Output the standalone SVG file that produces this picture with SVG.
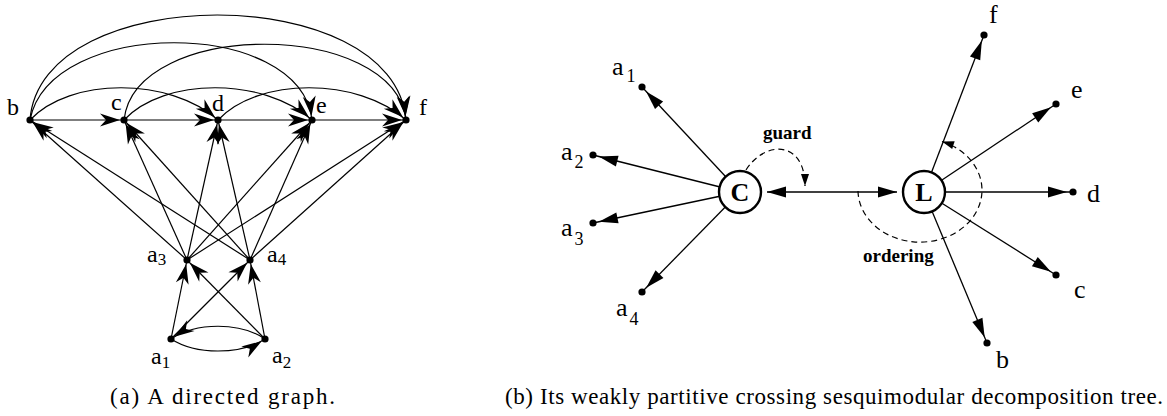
<svg xmlns="http://www.w3.org/2000/svg" width="1167" height="416" viewBox="0 0 1167 416">
<style>
.ea{fill:none;stroke:#000;stroke-width:1.2;marker-end:url(#barb)}
.er{fill:none;stroke:#000;stroke-width:1.3;marker-end:url(#tri)}
.dash{fill:none;stroke:#000;stroke-width:1.2;stroke-dasharray:6,4;marker-end:url(#small)}
.dot{fill:#000}
.lbl{font-family:"Liberation Serif","Times New Roman",serif;font-size:24px;fill:#000}
.lblr{font-family:"Liberation Serif","Times New Roman",serif;font-size:26px;fill:#000}
.sub{font-size:17px}
.subr{font-size:18px}
.bold{font-family:"Liberation Serif","Times New Roman",serif;font-weight:bold;fill:#000}
.cap{font-family:"Liberation Serif","Times New Roman",serif;font-size:23px;fill:#000}
.circ{fill:#fff;stroke:#000;stroke-width:2.4}
</style>
<defs>
<marker id="barb" viewBox="-22 -8 30 16" markerWidth="30" markerHeight="16" refX="4" refY="0" orient="auto" markerUnits="userSpaceOnUse"><path d="M0,0 L-20,-6.5 L-14,0 L-20,6.5 Z" fill="#000"/></marker>
<marker id="tri" viewBox="-22 -8 30 16" markerWidth="30" markerHeight="16" refX="6" refY="0" orient="auto" markerUnits="userSpaceOnUse"><path d="M0,0 L-19,-5.5 L-19,5.5 Z" fill="#000"/></marker>
<marker id="tri0" viewBox="-22 -8 30 16" markerWidth="30" markerHeight="16" refX="0" refY="0" orient="auto-start-reverse" markerUnits="userSpaceOnUse"><path d="M0,0 L-19,-5.5 L-19,5.5 Z" fill="#000"/></marker>
<marker id="small" viewBox="-14 -5 16 10" markerWidth="16" markerHeight="10" refX="0" refY="0" orient="auto" markerUnits="userSpaceOnUse"><path d="M0,0 L-12,-4 L-12,4 Z" fill="#000"/></marker>
</defs>

<!-- (a) directed graph -->
<g id="connectors-a">
<path class="ea" d="M30,120 L124,120"/>
<path class="ea" d="M124,120 L218,120"/>
<path class="ea" d="M218,120 L312,120"/>
<path class="ea" d="M312,120 L406,120"/>
<path class="ea" d="M30,120 C70,77 170,77 218,120"/>
<path class="ea" d="M124,120 C164,77 264,77 312,120"/>
<path class="ea" d="M218,120 C258,77 358,77 406,120"/>
<path class="ea" d="M30,120 C50,17 300,17 312,120"/>
<path class="ea" d="M124,120 C135,19 394,19 406,120"/>
<path class="ea" d="M30,120 C40,-20 394,-20 406,120"/>
<path class="ea" d="M187,260 L30,120"/>
<path class="ea" d="M187,260 L124,120"/>
<path class="ea" d="M187,260 L218,120"/>
<path class="ea" d="M187,260 L312,120"/>
<path class="ea" d="M187,260 L406,120"/>
<path class="ea" d="M250,260 L30,120"/>
<path class="ea" d="M250,260 L124,120"/>
<path class="ea" d="M250,260 L218,120"/>
<path class="ea" d="M250,260 L312,120"/>
<path class="ea" d="M250,260 L406,120"/>
<path class="ea" d="M171,339 L187,260"/>
<path class="ea" d="M171,339 L250,260"/>
<path class="ea" d="M265,339 L187,260"/>
<path class="ea" d="M265,339 L250,260"/>
<path class="ea" d="M265,339 C240,322 196,322 171,339"/>
<path class="ea" d="M171,339 C196,355 240,355 265,339"/>
</g>
<g id="a-b"><circle class="dot" cx="30" cy="120" r="3.6"/><text class="lbl" x="7" y="115">b</text></g>
<g id="a-c"><circle class="dot" cx="124" cy="120" r="3.6"/><text class="lbl" x="111" y="110">c</text></g>
<g id="a-d"><circle class="dot" cx="218" cy="120" r="3.6"/><text class="lbl" x="212" y="111">d</text></g>
<g id="a-e"><circle class="dot" cx="312" cy="120" r="3.6"/><text class="lbl" x="316" y="113">e</text></g>
<g id="a-f"><circle class="dot" cx="406" cy="120" r="3.6"/><text class="lbl" x="419" y="115">f</text></g>
<g id="a-a3"><circle class="dot" cx="187" cy="260" r="3.6"/><text class="lbl" x="147" y="262">a<tspan class="sub" dy="3">3</tspan></text></g>
<g id="a-a4"><circle class="dot" cx="250" cy="260" r="3.6"/><text class="lbl" x="267" y="262">a<tspan class="sub" dy="3">4</tspan></text></g>
<g id="a-a1"><circle class="dot" cx="171" cy="339" r="3.6"/><text class="lbl" x="151" y="364">a<tspan class="sub" dy="4">1</tspan></text></g>
<g id="a-a2"><circle class="dot" cx="265" cy="339" r="3.6"/><text class="lbl" x="272" y="363">a<tspan class="sub" dy="5">2</tspan></text></g>
<text class="cap" x="110" y="404" textLength="225">(a) A directed graph.</text>

<!-- (b) decomposition tree -->
<g id="connectors-b">
<path class="er" d="M740,192 L642,87"/>
<path class="er" d="M740,192 L593,155"/>
<path class="er" d="M740,192 L593,223"/>
<path class="er" d="M740,192 L642,292"/>
<path class="er" d="M924,192 L984,35"/>
<path class="er" d="M924,192 L1056,104"/>
<path class="er" d="M924,192 L1073,192"/>
<path class="er" d="M924,192 L1056,275"/>
<path class="er" d="M924,192 L987,343"/>
<path d="M767,192 L897,192" fill="none" stroke="#000" stroke-width="1.3" marker-start="url(#tri0)" marker-end="url(#tri0)"/>
<path class="dash" d="M746,170 C765,140 805,140 805,186"/>
<path class="dash" d="M858,191 A62,52 0 1 0 942,141.5"/>
</g>
<g id="b-C"><circle class="circ" cx="740" cy="192" r="21"/><text class="bold" x="740" y="201" font-size="26" text-anchor="middle">C</text></g>
<g id="b-L"><circle class="circ" cx="924" cy="192" r="21"/><text class="bold" x="924" y="201" font-size="26" text-anchor="middle">L</text></g>
<g id="b-a1"><circle class="dot" cx="642" cy="87" r="3.6"/><text class="lblr" x="612" y="75">a<tspan class="subr" dx="3" dy="7">1</tspan></text></g>
<g id="b-a2"><circle class="dot" cx="593" cy="155" r="3.6"/><text class="lblr" x="561" y="160">a<tspan class="subr" dx="2" dy="8">2</tspan></text></g>
<g id="b-a3"><circle class="dot" cx="593" cy="223" r="3.6"/><text class="lblr" x="561" y="236">a<tspan class="subr" dx="2" dy="9">3</tspan></text></g>
<g id="b-a4"><circle class="dot" cx="642" cy="292" r="3.6"/><text class="lblr" x="616" y="316">a<tspan class="subr" dx="2" dy="9">4</tspan></text></g>
<g id="b-f"><circle class="dot" cx="984" cy="35" r="3.6"/><text class="lblr" x="989" y="23">f</text></g>
<g id="b-e"><circle class="dot" cx="1056" cy="104" r="3.6"/><text class="lblr" x="1071" y="98">e</text></g>
<g id="b-d"><circle class="dot" cx="1073" cy="192" r="3.6"/><text class="lblr" x="1087" y="202">d</text></g>
<g id="b-c"><circle class="dot" cx="1056" cy="275" r="3.6"/><text class="lblr" x="1074" y="298">c</text></g>
<g id="b-b"><circle class="dot" cx="987" cy="343" r="3.6"/><text class="lblr" x="996" y="368">b</text></g>
<text class="bold" x="763" y="139" font-size="19">guard</text>
<text class="bold" x="863" y="262" font-size="19">ordering</text>
<text class="cap" x="505" y="404" textLength="658">(b) Its weakly partitive crossing sesquimodular decomposition tree.</text>
</svg>
